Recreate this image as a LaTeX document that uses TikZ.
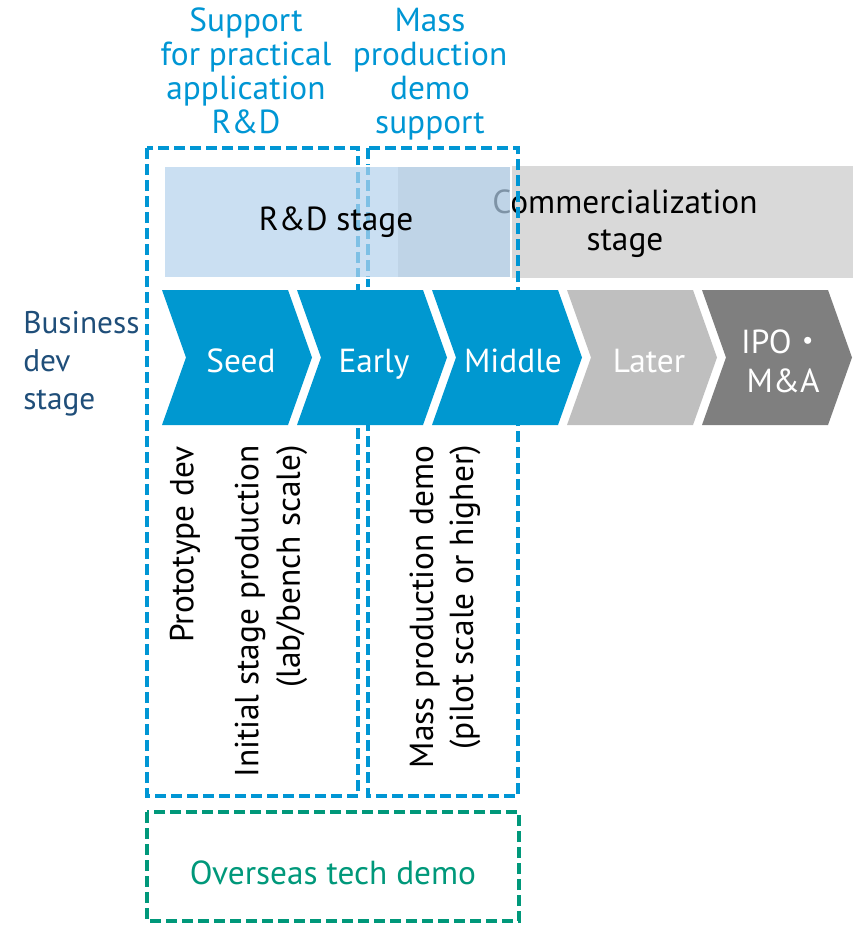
\documentclass[tikz,border=0pt]{standalone}
\usepackage{fontspec}
\setmainfont{PT Sans}
\newfontfamily\cjk{Noto Sans CJK JP}
\usepackage{tikz}
\definecolor{chevblue}{RGB}{0,152,208}
\definecolor{dashblue}{RGB}{0,150,212}
\definecolor{dashgreen}{RGB}{0,152,122}
\definecolor{darkblue}{RGB}{31,78,121}
\definecolor{bandblue}{RGB}{180,210,237}
\definecolor{bandgrey}{RGB}{217,217,217}
\definecolor{latergrey}{RGB}{191,191,191}
\definecolor{ipogrey}{RGB}{127,127,127}

\begin{document}
\begin{tikzpicture}[x=0.75pt, y=-0.75pt,
    txt/.style={inner sep=0pt, align=center, font=\fontsize{25}{28}\selectfont},
    dashbox/.style={line width=2.5pt, dash pattern=on 8pt off 4pt},
    vtxt/.style={txt, rotate=90, anchor=east, align=right, font=\fontsize{25}{31}\selectfont},
    chev/.style={txt, white, anchor=base}]
    \useasboundingbox (0,0) rectangle (853,925);

    % headings over the dashed frames
    \node[txt, dashblue, font=\fontsize{25}{25.5}\selectfont] (supp) at (246,71) {Support\\for practical\\application\\R\&D};
    \node[txt, dashblue, font=\fontsize{25}{25.5}\selectfont] (mass) at (430,74) {Mass\\production\\demo\\support};
    \node[txt, darkblue, anchor=west, align=left, font=\fontsize{23.5}{28.5}\selectfont] (biz) at (23,364) {Business\\dev\\stage};

    % commercialization band
    \fill[bandgrey] (398,166) rectangle (853,278);
    \node[txt, font=\fontsize{25}{27.75}\selectfont] (comm) at (625,224) {Commercialization\\stage};

    % dashed frames
    \draw[dashbox, dashblue] (147,148) rectangle (358,796);
    \draw[dashbox, dashblue] (368,148) rectangle (518,796);
    \draw[dashbox, dashgreen] (147,812) rectangle (519,921);
    \node[txt, dashgreen] (ovs) at (333,873) {Overseas tech demo};

    % R&D band
    \filldraw[fill=bandblue, fill opacity=0.7, draw=white, line width=1.5pt] (164,166) rectangle (511,278);
    \node[txt] (rnd) at (336,222) {R\&D stage};

    % chevrons
    \foreach \x/\col in {162/chevblue, 297/chevblue, 432/chevblue, 567/latergrey, 702/ipogrey}
        \fill[\col] (\x,290) -- ++(126,0) -- ++(24,67.5) -- ++(-24,67.5) -- ++(-126,0) -- ++(24,-67.5) -- cycle;
    \foreach \x/\lbl in {241/Seed, 374/Early, 513/Middle, 649/Later}
        \node[chev] (\lbl) at (\x,372) {\lbl};
    \node[chev, font=\fontsize{25}{29.25}\selectfont] (ipo) at (783,392) {IPO\cjk{・}\\M\&A};

    % notes under the chevrons
    \node[vtxt] (proto) at (185,446) {Prototype dev};
    \node[vtxt] (init) at (271,445) {Initial stage production\\(lab/bench scale)};
    \node[vtxt, font=\fontsize{25}{30}\selectfont] (pilot) at (445,445) {Mass production demo\\(pilot scale or higher)};
\end{tikzpicture}
\end{document}
